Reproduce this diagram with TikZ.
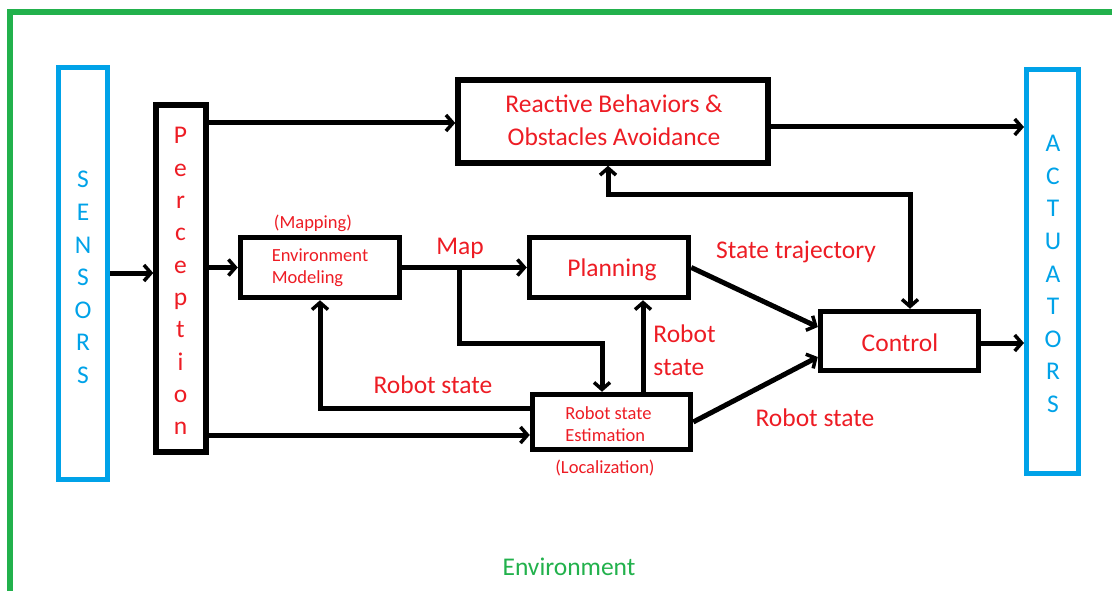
\documentclass[tikz,border=0pt]{standalone}
\usepackage{fontspec}
\setmainfont{Carlito}
\usetikzlibrary{arrows.meta}
\definecolor{pred}{HTML}{ED1C24}
\definecolor{pblue}{HTML}{00A2E8}
\definecolor{pgreen}{HTML}{22B14C}
\tikzset{
  blk/.style={draw=black, line width=5.5pt, inner sep=0pt},
  side/.style={draw=pblue, line width=5pt, inner sep=0pt},
  tipb/.tip={Straight Barb[length=7pt,width=16pt,line width=3.5pt]},
  arr/.style={line width=5pt, -tipb},
  arrboth/.style={line width=5pt, tipb-tipb},
  big/.style={text=pred, font=\fontsize{25.5}{33}\selectfont, inner sep=0pt},
  small/.style={text=pred, font=\fontsize{18.5}{22}\selectfont, inner sep=0pt},
  vlet/.style={text=pblue, font=\fontsize{25.5}{30}\selectfont, anchor=base, inner sep=0pt},
}
\begin{document}
\begin{tikzpicture}[x=1pt,y=-1pt]
\useasboundingbox (0,0) rectangle (1112,591);
% environment frame
\draw[pgreen, line width=6pt] (10,591) -- (10,12) -- (1112,12);
\node[text=pgreen, font=\fontsize{25.5}{30}\selectfont, inner sep=0pt] (envlab) at (569,567) {Environment};

% sensors / actuators
\node[side, minimum width=49pt, minimum height=412pt] (sens) at (83,273.5) {};
\foreach \l [count=\i from 0] in {S,E,N,S,O,R,S}
  \node[vlet] (s\i) at (83,188+32.5*\i) {\l};
\node[side, minimum width=52pt, minimum height=404pt] (act) at (1052.5,271.5) {};
\foreach \l [count=\i from 0] in {A,C,T,U,A,T,O,R,S}
  \node[vlet] (a\i) at (1053,152+32.5*\i) {\l};

% perception
\node[blk, minimum width=50pt, minimum height=347pt] (perc) at (181,278.5) {};
\foreach \l [count=\i from 0] in {P,e,r,c,e,p,t,i,o,n}
  \node[vlet, text=pred] (p\i) at (180.5,144+32.3*\i) {\l};

% boxes
\node[blk, minimum width=310pt, minimum height=83pt] (react) at (613,121.5) {};
\node[big, align=center] (reacttxt) at (614,120) {Reactive Behaviors \&\\Obstacles Avoidance};
\node[blk, minimum width=159pt, minimum height=60pt] (env) at (320,267.5) {};
\node[small, align=left] (envtxt) at (320,268) {Environment\\Modeling};
\node[small] (maplab) at (313,223) {(Mapping)};
\node[blk, minimum width=159pt, minimum height=60pt] (plan) at (609,267.5) {};
\node[big] (plantxt) at (612,270) {Planning};
\node[blk, minimum width=158pt, minimum height=55pt] (rse) at (611.5,422) {};
\node[small, align=left] (rsetxt) at (608.5,424) {Robot state\\Estimation};
\node[small] (loclab) at (605,468) {(Localization)};
\node[blk, minimum width=158pt, minimum height=59pt] (ctrl) at (899.5,341) {};
\node[big] (ctrltxt) at (900,343) {Control};

% labels
\node[big] (lmap) at (460,248) {Map};
\node[big] (ltraj) at (796,252) {State trajectory};
\node[big] (lrs1) at (433,385) {Robot state};
\node[big, align=left] (lrs2) at (684.5,350) {Robot\\state};
\node[big] (lrs3) at (815,418) {Robot state};

% connectors
\draw[arr] (sens.east |- 0,273) -- (perc.west |- 0,273);
\draw[arr] (perc.east |- 0,123) -- (react.west |- 0,123);
\draw[arr] (perc.east |- env.west) -- (env.west);
\draw[arr] (perc.east |- 0,435) -- (rse.west |- 0,435);
\draw[arr] (env.east) -- (plan.west);
\coordinate (br) at (459,267.5);
\coordinate (bk) at (602,343);
\draw[arr] (br) |- (bk) -- (bk |- rse.north);
\draw[arr] (rse.west |- 0,408) -| (env.south);
\coordinate (up) at (643,0);
\draw[arr] (up |- rse.north) -- (up |- plan.south);
\draw[arr] (plan.east) -- (ctrl.west |- 0,327);
\draw[arr] (rse.east) -- (ctrl.west |- 0,357);
\coordinate (fb) at (910,195);
\coordinate (fbl) at (608,195);
\draw[arrboth] (fb |- ctrl.north) -- (fb) -- (fbl) -- (fbl |- react.south);
\draw[arr] (react.east |- 0,127) -- (act.west |- 0,127);
\draw[arr] (ctrl.east |- 0,343) -- (act.west |- 0,343);
\end{tikzpicture}
\end{document}
